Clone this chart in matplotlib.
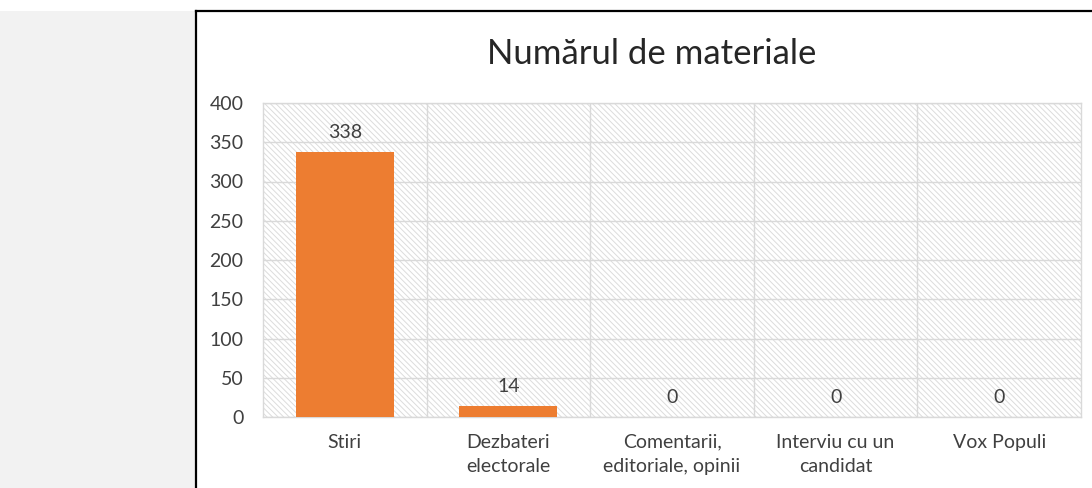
import matplotlib.pyplot as plt
from matplotlib.patches import Rectangle
from matplotlib.lines import Line2D

categories = ['Stiri', 'Dezbateri\nelectorale', 'Comentarii,\neditoriale, opinii',
              'Interviu cu un\ncandidat', 'Vox Populi']
values = [338, 14, 0, 0, 0]
yticks = [0, 50, 100, 150, 200, 250, 300, 350, 400]

plt.rcParams['font.family'] = ['Lato', 'DejaVu Sans']
plt.rcParams['hatch.color'] = '#dcdcdc'
plt.rcParams['hatch.linewidth'] = 0.7

W, H = 1092, 488
fig = plt.figure(figsize=(W / 100, H / 100), dpi=100, facecolor='white')

# gray panel on the left and chart frame
fig.patches.append(Rectangle((0, 0), 195 / W, (H - 11) / H, transform=fig.transFigure,
                             facecolor='#f2f2f2', edgecolor='none', zorder=0))
fig.lines.append(Line2D([196 / W, 1], [(H - 11) / H, (H - 11) / H], transform=fig.transFigure,
                        color='black', lw=1.6))
fig.lines.append(Line2D([196 / W, 196 / W], [0, (H - 11) / H], transform=fig.transFigure,
                        color='black', lw=1.6))

ax = fig.add_axes([263 / W, (H - 417) / H, (1081 - 263) / W, (417 - 103) / H])
ax.set_facecolor('white')
ax.add_patch(Rectangle((0, 0), 1, 1, transform=ax.transAxes, facecolor='none',
                       edgecolor='#dcdcdc', hatch='\\' * 6, lw=0, zorder=0))

x = range(len(categories))
bars = ax.bar(x, values, width=0.6, color='#ed7d31', zorder=3)
for b, v in zip(bars, values):
    ax.annotate(str(v), (b.get_x() + b.get_width() / 2, v), xytext=(0, 8),
                textcoords='offset points', ha='center', va='bottom',
                fontsize=14, color='#404040')

ax.set_xlim(-0.5, len(categories) - 0.5)
ax.set_ylim(0, 400)
ax.set_yticks(yticks)
ax.set_xticks(list(x))
ax.set_xticklabels(categories, fontsize=14, color='#404040', linespacing=1.55)
ax.tick_params(axis='y', labelsize=14, labelcolor='#404040', length=0, pad=14)
ax.tick_params(axis='x', length=0, pad=12)
ax.set_axisbelow(True)
ax.grid(axis='y', color='#d9d9d9', lw=1)
for xv in [0.5, 1.5, 2.5, 3.5]:
    ax.axvline(xv, color='#d9d9d9', lw=1, zorder=1)
for s in ax.spines.values():
    s.set_color('#d9d9d9')
    s.set_linewidth(1)

fig.text(652 / W, 1 - 54 / H, 'Numărul de materiale', ha='center', va='center',
         fontsize=25, color='#262626')

fig.savefig('out.png', dpi=100)
